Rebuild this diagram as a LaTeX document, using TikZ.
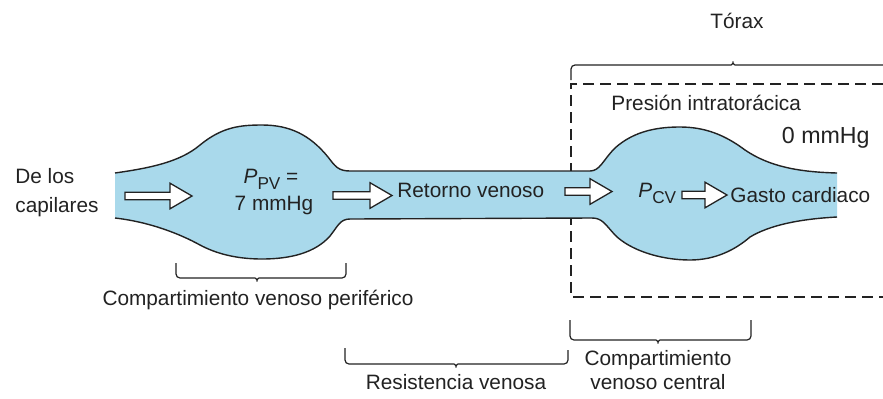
\documentclass[tikz,border=0pt]{standalone}
\usepackage{fontspec}
\setmainfont{Liberation Sans}
\definecolor{vein}{HTML}{A9D9EB}
\definecolor{ink}{HTML}{222222}
\tikzset{
  txt/.style={inner sep=0pt, text=ink, font=\fontsize{10.4}{12}\selectfont},
  bigtxt/.style={inner sep=0pt, text=ink, font=\fontsize{11.6}{13}\selectfont},
  outline/.style={draw=ink, line width=0.7pt},
  brk/.style={draw=ink, line width=0.6pt, rounded corners=2pt},
  dsh/.style={draw=ink, line width=0.65pt, dash pattern=on 5.5pt off 3pt},
  barr/.style={draw=ink, fill=white, line width=0.65pt, line join=miter},
  barrow/.pic={\path[barr] (0,-3.8) -- ({#1-22},-3.8) -- ({#1-22},-12.8) -- (#1,0)
      -- ({#1-22},12.8) -- ({#1-22},3.8) -- (0,3.8) -- cycle;}
}
\newcommand\subtx[1]{\raisebox{-3.2pt}{\fontsize{8.6}{10}\selectfont #1}}
\begin{document}
\begin{tikzpicture}[x=0.5pt,y=-0.5pt]
\useasboundingbox[fill=white] (0,0) rectangle (883,398);

% thorax dashed box and bracket
\draw[dsh] (883,84) -- (571,84) -- (571,297) -- (883,297);
\draw[brk] (571,80) -- (571,65) -- (727,65)
  .. controls (731,65) and (733,64) .. (733,59)
  .. controls (733,64) and (735,65) .. (739,65) -- (883,65);

% vein fill
\fill[vein] (115,173)
  .. controls (150,168) and (180,162) .. (200,145)
  .. controls (222,127) and (240,125) .. (262,125)
  .. controls (290,125) and (310,135) .. (328,157)
  .. controls (335,166) and (338,171) .. (350,171)
  -- (590,171)
  .. controls (600,171) and (603,160) .. (615,148)
  .. controls (635,130) and (660,127) .. (680,127)
  .. controls (705,127) and (725,135) .. (745,150)
  .. controls (770,167) and (800,172) .. (837,173)
  -- (837,217)
  .. controls (800,219) and (770,225) .. (750,237)
  .. controls (735,250) and (715,260) .. (690,260)
  .. controls (660,260) and (630,250) .. (615,235)
  .. controls (605,224) and (602,218) .. (592,218)
  -- (350,219)
  .. controls (340,219) and (338,226) .. (330,236)
  .. controls (315,253) and (290,259) .. (262,259)
  .. controls (235,259) and (215,253) .. (200,245)
  .. controls (180,234) and (150,222) .. (115,218) -- cycle;

% vein outlines
\draw[outline] (115,173)
  .. controls (150,168) and (180,162) .. (200,145)
  .. controls (222,127) and (240,125) .. (262,125)
  .. controls (290,125) and (310,135) .. (328,157)
  .. controls (335,166) and (338,171) .. (350,171)
  -- (590,171)
  .. controls (600,171) and (603,160) .. (615,148)
  .. controls (635,130) and (660,127) .. (680,127)
  .. controls (705,127) and (725,135) .. (745,150)
  .. controls (770,167) and (800,172) .. (837,173);
\draw[outline] (837,217)
  .. controls (800,219) and (770,225) .. (750,237)
  .. controls (735,250) and (715,260) .. (690,260)
  .. controls (660,260) and (630,250) .. (615,235)
  .. controls (605,224) and (602,218) .. (592,218)
  -- (350,219)
  .. controls (340,219) and (338,226) .. (330,236)
  .. controls (315,253) and (290,259) .. (262,259)
  .. controls (235,259) and (215,253) .. (200,245)
  .. controls (180,234) and (150,222) .. (115,218);

% block arrows
\pic at (125,196) {barrow=67};
\pic at (333,195.5) {barrow=59};
\pic at (565,191.5) {barrow=47};
\pic at (682,195) {barrow=45};

% texts
\node[txt, anchor=base west] (dl1) at (15,183) {De los};
\node[txt, anchor=base west] (dl2) at (15,212) {capilares};
\node[txt, anchor=base] (ppv) at (271,183) {\textit{P}\subtx{PV} =};
\node[txt, anchor=base] (ppv2) at (274,210) {7 mmHg};
\node[txt, anchor=base west] (rv) at (397,197) {Retorno venoso};
\node[txt, anchor=base west] (pcv) at (638,197) {\textit{P}\subtx{CV}};
\node[txt, anchor=base west] (gc) at (730,202) {Gasto cardiaco};
\node[txt, anchor=base] (tor) at (737,28) {Tórax};
\node[txt, anchor=base west] (pit) at (611,110) {Presión intratorácica};
\node[bigtxt, anchor=base east] (zero) at (870,143) {0 mmHg};
\node[txt, anchor=base] (cvp) at (258,305) {Compartimiento venoso periférico};
\node[txt, anchor=base] (rsv) at (456,389) {Resistencia venosa};
\node[txt, anchor=base] (cvc1) at (658,365) {Compartimiento};
\node[txt, anchor=base] (cvc2) at (658,389) {venoso central};

% lower brackets
\draw[brk] (176,263) -- (176,278) -- (251,278)
  .. controls (255,278) and (257,279) .. (257,284)
  .. controls (257,279) and (259,278) .. (263,278) -- (346,278) -- (346,263);
\draw[brk] (345,348) -- (345,364) -- (450,364)
  .. controls (454,364) and (456,365) .. (456,370)
  .. controls (456,365) and (458,364) .. (462,364) -- (568,364) -- (568,350);
\draw[brk] (570,320) -- (570,340) -- (652,340)
  .. controls (656,340) and (658,341) .. (658,346)
  .. controls (658,341) and (660,340) .. (664,340) -- (751,340) -- (751,320);
\end{tikzpicture}
\end{document}
